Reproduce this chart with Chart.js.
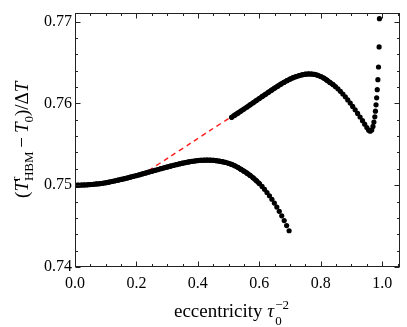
<!DOCTYPE html>
<html>
<head>
<meta charset="utf-8">
<script src="https://cdn.jsdelivr.net/npm/chart.js@4"></script>
<style>
  html, body { margin: 0; padding: 0; background: #fff; }
  canvas { display: block; }
</style>
</head>
<body>
<canvas id="chart" width="407" height="327"></canvas>
<script>
/* ----- data ----- */
const lowerX = [
    0.00, 0.01, 0.02, 0.03, 0.04, 0.05, 0.06, 0.07, 0.08, 0.09,
    0.10, 0.11, 0.12, 0.13, 0.14, 0.15, 0.16, 0.17, 0.18, 0.19,
    0.20, 0.21, 0.22, 0.23, 0.24, 0.25, 0.26, 0.27, 0.28, 0.29,
    0.30, 0.31, 0.32, 0.33, 0.34, 0.35, 0.36, 0.37, 0.38, 0.39,
    0.40, 0.41, 0.42, 0.43, 0.44, 0.45, 0.46, 0.47, 0.48, 0.49,
    0.50, 0.51, 0.52, 0.53, 0.54, 0.55, 0.56, 0.57, 0.58, 0.59,
    0.600, 0.609, 0.617, 0.625, 0.633, 0.641, 0.649, 0.657, 0.665, 0.673,
    0.681, 0.689, 0.697
];
const lowerY = [
    0.75000, 0.75000, 0.75001, 0.75003, 0.75005, 0.75008, 0.75011, 0.75015, 0.75019, 0.75024,
    0.75030, 0.75037, 0.75045, 0.75053, 0.75062, 0.75070, 0.75079, 0.75088, 0.75098, 0.75108,
    0.75118, 0.75128, 0.75139, 0.75149, 0.75160, 0.75170, 0.75181, 0.75191, 0.75202, 0.75212,
    0.75222, 0.75232, 0.75242, 0.75251, 0.75260, 0.75269, 0.75277, 0.75284, 0.75291, 0.75296,
    0.75301, 0.75304, 0.75306, 0.75307, 0.75306, 0.75304, 0.75300, 0.75294, 0.75287, 0.75278,
    0.75267, 0.75254, 0.75238, 0.75218, 0.75195, 0.75172, 0.75147, 0.75120, 0.75090, 0.75056,
    0.75020, 0.74985, 0.74949, 0.74911, 0.74871, 0.74828, 0.74782, 0.74733, 0.74681, 0.74626,
    0.74568, 0.74507, 0.74443
];

const upperX = [
    0.51, 0.52, 0.53, 0.54, 0.55, 0.56, 0.57, 0.58, 0.59, 0.60,
    0.61, 0.62, 0.63, 0.64, 0.65, 0.66, 0.67, 0.68, 0.69, 0.70,
    0.71, 0.72, 0.73, 0.74, 0.75, 0.76, 0.77, 0.78, 0.79, 0.80,
    0.81, 0.82, 0.83, 0.84,
    0.848, 0.856, 0.864, 0.872, 0.880, 0.888, 0.896, 0.904, 0.912, 0.920,
    0.928, 0.936, 0.943, 0.950, 0.956, 0.961, 0.966, 0.970, 0.973, 0.976,
    0.978, 0.980, 0.982, 0.984, 0.986, 0.988, 0.990, 0.991
];
const upperY = [
    0.75830, 0.75856, 0.75881, 0.75906, 0.75931, 0.75956, 0.75982, 0.76008, 0.76034, 0.76060,
    0.76086, 0.76111, 0.76137, 0.76162, 0.76187, 0.76211, 0.76235, 0.76257, 0.76278, 0.76297,
    0.76314, 0.76328, 0.76340, 0.76350, 0.76357, 0.76360, 0.76359, 0.76354, 0.76344, 0.76329,
    0.76309, 0.76284, 0.76256, 0.76230,
    0.76205, 0.76178, 0.76148, 0.76115, 0.76080, 0.76043, 0.76004, 0.75963, 0.75921, 0.75878,
    0.75834, 0.75789, 0.75746, 0.75705, 0.75673, 0.75660, 0.75675, 0.75718, 0.75772, 0.75836,
    0.75905, 0.75982, 0.76068, 0.76168, 0.76290, 0.76445, 0.76690, 0.77036
];

// where the dots are packed so tightly they read as one thick stroke
const lowerDenseUntil = 0.60;
const upperDenseUntil = 0.84;

const dashX = [0.24, 0.31, 0.38, 0.44, 0.505];
const dashY = [0.75180, 0.75350, 0.75522, 0.75670, 0.75826];

const xTicks = [0.0, 0.2, 0.4, 0.6, 0.8, 1.0];
const xTickLabels = ['0.0', '0.2', '0.4', '0.6', '0.8', '1.0'];
const yTicks = [0.74, 0.75, 0.76, 0.77];
const yTickLabels = ['0.74', '0.75', '0.76', '0.77'];

const SERIF = '"Liberation Serif", "DejaVu Serif", serif';

function toPoints(xs, ys) {
    return xs.map((x, i) => ({ x: x, y: ys[i] }));
}

function denseSegment(limit) {
    return {
        borderColor: (c) => (c.p1.parsed.x <= limit + 1e-9 ? '#000' : 'rgba(0,0,0,0)')
    };
}

/* ----- frame, inward ticks on all sides, rich axis titles ----- */
const framePlugin = {
    id: 'frame',
    afterDraw(chart) {
        const ctx = chart.ctx;
        const ca = chart.chartArea;
        const xs = chart.scales.x;
        const ys = chart.scales.y;
        const L = Math.round(ca.left) + 0.5, R = Math.round(ca.right) - 0.5;
        const T = Math.round(ca.top) + 0.5, B = Math.round(ca.bottom) - 0.5;

        ctx.save();
        ctx.strokeStyle = '#222';
        ctx.lineWidth = 1;
        ctx.strokeRect(L, T, R - L, B - T);

        ctx.beginPath();
        for (let i = 0; i <= 21; i++) {
            const v = i * 0.05;
            const px = Math.round(xs.getPixelForValue(v)) + 0.5;
            const len = (i % 4 === 0) ? 5 : 2.5;
            ctx.moveTo(px, B); ctx.lineTo(px, B - len);
            ctx.moveTo(px, T); ctx.lineTo(px, T + len);
        }
        for (let i = 0; i <= 15; i++) {
            const v = 0.74 + i * 0.002;
            const py = Math.round(ys.getPixelForValue(v)) + 0.5;
            const len = (i % 5 === 0) ? 5 : 2.5;
            ctx.moveTo(L, py); ctx.lineTo(L + len, py);
            ctx.moveTo(R, py); ctx.lineTo(R - len, py);
        }
        ctx.stroke();

        ctx.fillStyle = '#000';
        ctx.textBaseline = 'alphabetic';
        ctx.textAlign = 'left';
        const big = '19px ' + SERIF;
        const bigI = 'italic 19px ' + SERIF;
        const small = '13px ' + SERIF;

        // x title: eccentricity τ0^-2
        let x = 174, base = 317;
        ctx.font = big;
        ctx.fillText('eccentricity ', x, base);
        x += ctx.measureText('eccentricity ').width;
        ctx.font = bigI;
        ctx.fillText('τ', x, base);
        x += ctx.measureText('τ').width + 1;
        ctx.font = small;
        ctx.fillText('0', x, base + 8);
        ctx.fillText('−2', x, base - 8);

        // y title: (T^r_HBM − T0)/ΔT, rotated
        const pieces = [
            { t: '(', f: big, dy: 0 },
            { t: 'T', f: bigI, dy: 0 },
            { stack: [{ t: 'r', f: small, dy: -8 }, { t: 'HBM', f: small, dy: 5 }] },
            { t: '\u2009−\u2009', f: big, dy: 0 },
            { t: 'T', f: bigI, dy: 0 },
            { t: '0', f: small, dy: 5 },
            { t: ')/Δ', f: big, dy: 0 },
            { t: 'T', f: bigI, dy: 0 }
        ];
        const widthOf = (p) => {
            if (p.stack) {
                return Math.max(...p.stack.map(s => { ctx.font = s.f; return ctx.measureText(s.t).width; }));
            }
            ctx.font = p.f;
            return ctx.measureText(p.t).width;
        };
        const total = pieces.reduce((s, p) => s + widthOf(p), 0);
        ctx.translate(27.5, (ca.top + ca.bottom) / 2);
        ctx.rotate(-Math.PI / 2);
        let u = -total / 2;
        pieces.forEach(p => {
            const w = widthOf(p);
            if (p.stack) {
                p.stack.forEach(s => { ctx.font = s.f; ctx.fillText(s.t, u, s.dy); });
            } else {
                ctx.font = p.f;
                ctx.fillText(p.t, u, p.dy);
            }
            u += w;
        });
        ctx.restore();
    }
};

new Chart(document.getElementById('chart'), {
    type: 'scatter',
    data: {
        datasets: [
            {
                data: toPoints(lowerX, lowerY),
                showLine: true,
                borderColor: '#000',
                borderWidth: 5,
                borderCapStyle: 'round',
                borderJoinStyle: 'round',
                segment: denseSegment(lowerDenseUntil),
                backgroundColor: '#000',
                pointBorderWidth: 0,
                pointRadius: 2.6,
                order: 0
            },
            {
                data: toPoints(upperX, upperY),
                showLine: true,
                borderColor: '#000',
                borderWidth: 5,
                borderCapStyle: 'round',
                borderJoinStyle: 'round',
                segment: denseSegment(upperDenseUntil),
                backgroundColor: '#000',
                pointBorderWidth: 0,
                pointRadius: 2.6,
                order: 0
            },
            {
                data: toPoints(dashX, dashY),
                showLine: true,
                borderColor: '#ff1a1a',
                borderWidth: 1.4,
                borderDash: [5, 4],
                pointRadius: 0,
                tension: 0.3,
                order: 1
            }
        ]
    },
    options: {
        responsive: false,
        animation: false,
        layout: { padding: { top: 7, right: 7, left: 0, bottom: 0 } },
        plugins: {
            legend: { display: false },
            tooltip: { enabled: false }
        },
        scales: {
            x: {
                type: 'linear',
                position: 'bottom',
                min: 0,
                max: 1.058,
                grid: { display: false, drawTicks: false },
                border: { display: false },
                afterBuildTicks: (scale) => { scale.ticks = xTicks.map(v => ({ value: v })); },
                afterFit: (scale) => { scale.height = 60; },
                ticks: {
                    color: '#000',
                    padding: 7,
                    maxRotation: 0,
                    autoSkip: false,
                    font: { family: SERIF, size: 16 },
                    callback: (value) => xTickLabels[xTicks.findIndex(t => Math.abs(t - value) < 1e-9)]
                }
            },
            y: {
                type: 'linear',
                min: 0.74,
                max: 0.7711,
                grid: { display: false, drawTicks: false },
                border: { display: false },
                afterBuildTicks: (scale) => { scale.ticks = yTicks.map(v => ({ value: v })); },
                afterFit: (scale) => { scale.width = 75; },
                ticks: {
                    color: '#000',
                    padding: 3,
                    autoSkip: false,
                    font: { family: SERIF, size: 16 },
                    callback: (value) => yTickLabels[yTicks.findIndex(t => Math.abs(t - value) < 1e-9)]
                }
            }
        }
    },
    plugins: [framePlugin]
});
</script>
</body>
</html>
